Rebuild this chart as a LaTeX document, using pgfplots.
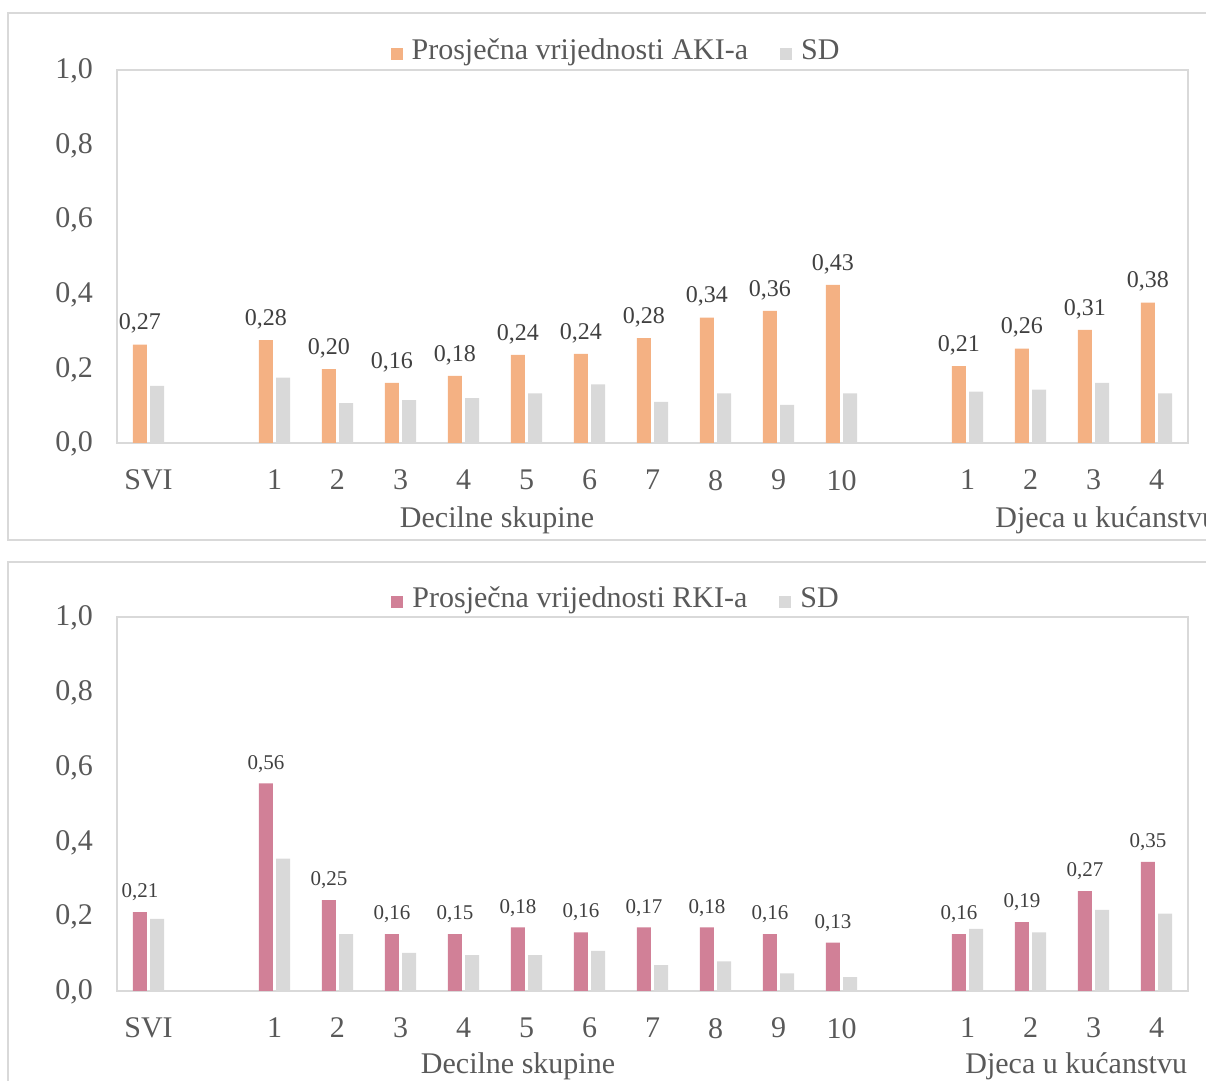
\documentclass[border=0pt]{standalone}
\usepackage{pgfplots}
\pgfplotsset{compat=1.18}
\usepackage{fontspec}
\setmainfont{Liberation Serif}
\definecolor{orangeC}{HTML}{F4B183}
\definecolor{grayC}{HTML}{D9D9D9}
\definecolor{pinkC}{HTML}{D18097}
\definecolor{txt}{HTML}{595959}
\definecolor{lbl}{HTML}{404040}
\definecolor{frameC}{HTML}{D9D9D9}
\newcommand\bigf{\fontsize{15pt}{18pt}\selectfont}
\pgfplotsset{
  panel/.style={
    scale only axis, width=535.5pt, enlargelimits=false,
    xmin=-0.5, xmax=16.5, ymin=0, ymax=1,
    ybar=1.6pt, bar width=7pt,
    axis line style={draw=frameC, line width=0.8pt},
    major tick length=0pt,
    xtick={0,2,3,4,5,6,7,8,9,10,11,13,14,15,16},
    xticklabels={SVI,1,2,3,4,5,6,7,8,9,10,1,2,3,4},
    ytick={0,0.2,0.4,0.6,0.8,1},
    xticklabel style={font=\bigf, text=txt, yshift=-10pt},
    yticklabel style={font=\bigf, text=txt, xshift=-8.5pt, yshift=-0.5pt,
      /pgf/number format/fixed, /pgf/number format/fixed zerofill,
      /pgf/number format/precision=1, /pgf/number format/use comma,
      /pgf/number format/assume math mode=true},
    legend style={draw=none, fill=none, font=\bigf, text=txt, legend columns=2,
      anchor=center, /tikz/every even column/.append style={column sep=14pt}},
  }
}
\begin{document}
\begin{tikzpicture}
\path[use as bounding box] (0pt,0pt) rectangle (603pt,540.5pt);
\clip (0pt,0pt) rectangle (603pt,540.5pt);
\draw[frameC, line width=0.75pt] (4pt,270.5pt) rectangle (615pt,534pt);
\draw[frameC, line width=0.75pt] (4pt,-10pt) rectangle (615pt,259.5pt);
% top panel
\begin{axis}[panel, at={(58.5pt,319pt)}, anchor=south west, height=186.5pt,
  legend style={at={(0.4669,1.051)}},
  nodes near coords style={font=\fontsize{12pt}{14pt}\selectfont, text=lbl, yshift=2pt}]
\addplot[fill=orangeC, draw=none, nodes near coords, point meta=explicit symbolic,
  legend image code/.code={\fill[orangeC] (0pt,-4.5pt) rectangle (6pt,1.5pt); \path (8.5pt,0pt);}]
  coordinates {(0,0.264)[0,27] (2,0.276)[0,28] (3,0.198)[0,20] (4,0.161)[0,16]
  (5,0.180)[0,18] (6,0.236)[0,24] (7,0.239)[0,24] (8,0.281)[0,28] (9,0.336)[0,34]
  (10,0.354)[0,36] (11,0.424)[0,43] (13,0.206)[0,21] (14,0.253)[0,26]
  (15,0.303)[0,31] (16,0.376)[0,38]};
\addlegendentry{Prosječna vrijednosti AKI-a}
\addplot[fill=grayC, draw=none,
  legend image code/.code={\fill[grayC] (0pt,-4.5pt) rectangle (6pt,1.5pt); \path (8.5pt,0pt);}]
  coordinates {(0,0.153) (2,0.175) (3,0.107) (4,0.115) (5,0.120) (6,0.133)
  (7,0.157) (8,0.110) (9,0.133) (10,0.102) (11,0.133) (13,0.138) (14,0.143)
  (15,0.161) (16,0.133)};
\addlegendentry{SD}
\end{axis}
% bottom panel
\begin{axis}[panel, at={(58.5pt,45pt)}, anchor=south west, height=187pt,
  legend style={at={(0.4669,1.048)}},
  nodes near coords style={font=\fontsize{10.5pt}{12pt}\selectfont, text=lbl, yshift=2pt}]
\addplot[fill=pinkC, draw=none, nodes near coords, point meta=explicit symbolic,
  legend image code/.code={\fill[pinkC] (0pt,-4.5pt) rectangle (6pt,1.5pt); \path (8.5pt,0pt);}]
  coordinates {(0,0.211)[0,21] (2,0.555)[0,56] (3,0.243)[0,25] (4,0.152)[0,16]
  (5,0.152)[0,15] (6,0.170)[0,18] (7,0.157)[0,16] (8,0.170)[0,17] (9,0.170)[0,18]
  (10,0.152)[0,16] (11,0.129)[0,13] (13,0.152)[0,16] (14,0.184)[0,19]
  (15,0.267)[0,27] (16,0.345)[0,35]};
\addlegendentry{Prosječna vrijednosti RKI-a}
\addplot[fill=grayC, draw=none,
  legend image code/.code={\fill[grayC] (0pt,-4.5pt) rectangle (6pt,1.5pt); \path (8.5pt,0pt);}]
  coordinates {(0,0.193) (2,0.354) (3,0.152) (4,0.102) (5,0.096) (6,0.096)
  (7,0.107) (8,0.069) (9,0.079) (10,0.047) (11,0.037) (13,0.166) (14,0.157)
  (15,0.217) (16,0.207)};
\addlegendentry{SD}
\end{axis}
\node[anchor=base, inner sep=0pt, font=\bigf, text=txt] at (248.5pt,276.5pt) {Decilne skupine};
\node[anchor=base west, inner sep=0pt, font=\bigf, text=txt] at (497.5pt,276.5pt) {Djeca u kućanstvu};
\node[anchor=base, inner sep=0pt, font=\bigf, text=txt] at (259pt,3.5pt) {Decilne skupine};
\node[anchor=base west, inner sep=0pt, font=\bigf, text=txt] at (482.5pt,3.5pt) {Djeca u kućanstvu};
\end{tikzpicture}
\end{document}
